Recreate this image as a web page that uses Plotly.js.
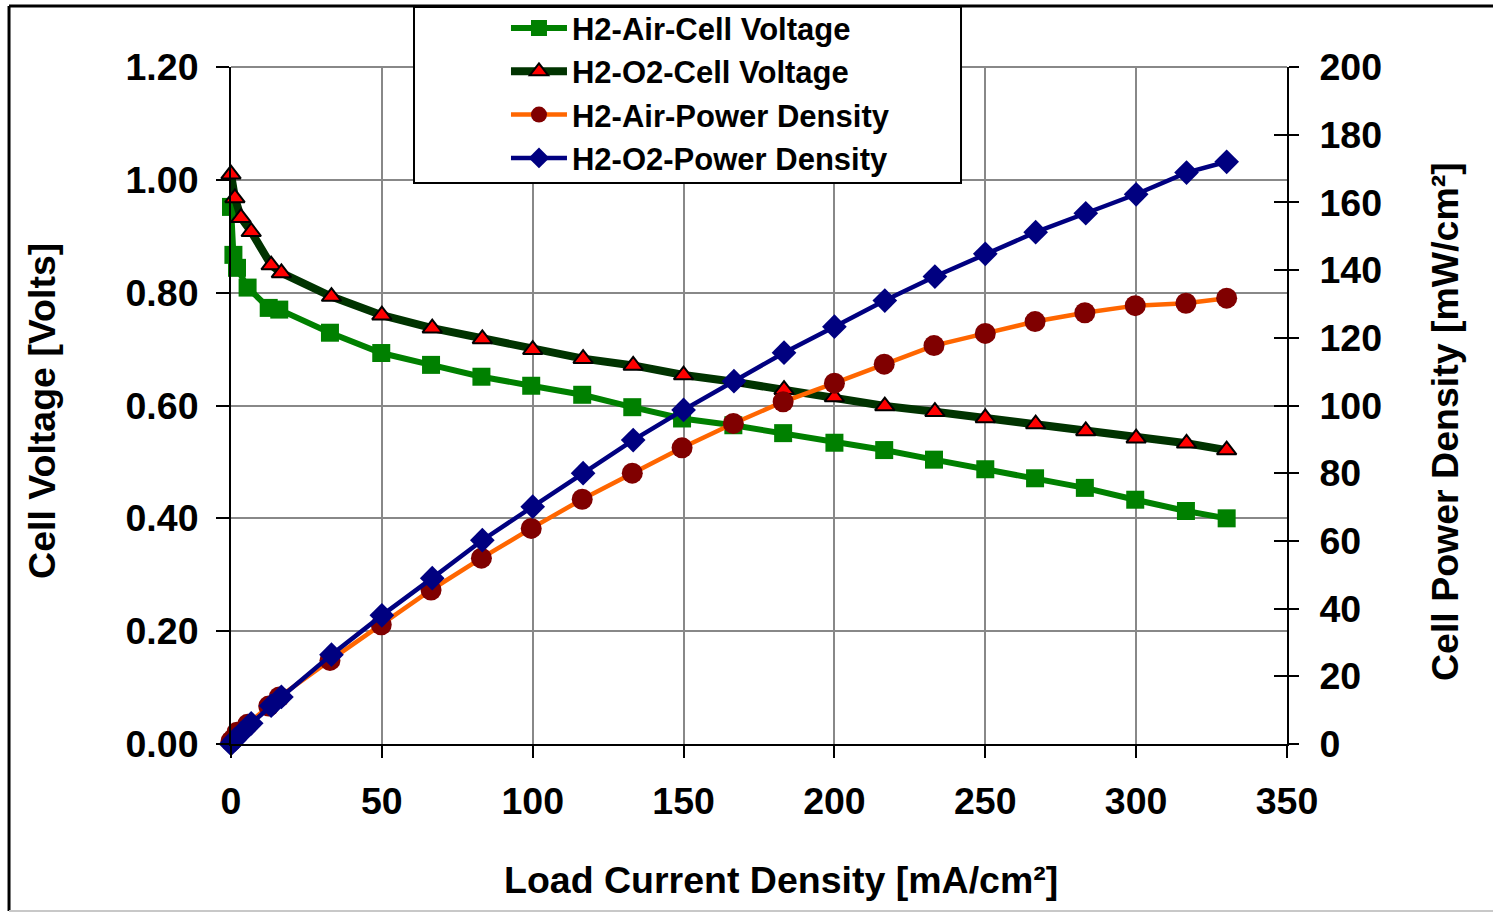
<!DOCTYPE html>
<html>
<head>
<meta charset="utf-8">
<script src="https://cdn.plot.ly/plotly-3.0.1.min.js"></script>
<style>
  html, body { margin: 0; padding: 0; background: #ffffff; }
  #chart { width: 1493px; height: 912px; }
</style>
</head>
<body>
<div id="chart"></div>
<script>
// Load current density [mA/cm²]
const currentO2 = [0, 1.3, 3.3, 6.7, 13.3, 16.7, 33.3, 50, 66.7, 83.3, 100, 116.7, 133.3, 150, 166.7, 183.3, 200, 216.7, 233.3, 250, 266.7, 283.3, 300, 316.7, 330];
const currentAir = [0, 0.8, 2.0, 5.5, 12.5, 16.0, 32.8, 49.8, 66.3, 83.0, 99.5, 116.4, 133.0, 149.5, 166.5, 183.0, 200, 216.5, 233.0, 250, 266.5, 283.0, 299.7, 316.5, 330];

// Cell voltage [Volts]
const voltageAir = [0.952, 0.867, 0.844, 0.809, 0.773, 0.770, 0.729, 0.693, 0.672, 0.651, 0.635, 0.619, 0.597, 0.577, 0.565, 0.551, 0.534, 0.521, 0.504, 0.487, 0.471, 0.454, 0.433, 0.413, 0.400];
const voltageO2 = [1.010, 0.968, 0.933, 0.908, 0.849, 0.835, 0.793, 0.760, 0.737, 0.718, 0.699, 0.683, 0.671, 0.654, 0.642, 0.628, 0.615, 0.599, 0.589, 0.578, 0.567, 0.555, 0.542, 0.533, 0.521];

// Cell power density [mW/cm²]
const powerAir = [0.8, 1.5, 3.5, 5.8, 11.2, 13.9, 24.7, 35.2, 45.5, 54.9, 63.7, 72.3, 80.0, 87.5, 94.7, 101.1, 106.6, 112.2, 117.7, 121.3, 124.8, 127.4, 129.5, 130.2, 131.7];
const powerO2 = [0, 1.3, 3.1, 6.1, 11.3, 13.9, 26.4, 38.0, 49.0, 60.2, 70.1, 80.0, 89.8, 98.7, 107.2, 115.6, 123.3, 131.0, 138.1, 144.8, 151.2, 156.8, 162.4, 168.8, 172.0];

const seriesNames = ['H2-Air-Cell Voltage', 'H2-O2-Cell Voltage', 'H2-Air-Power Density', 'H2-O2-Power Density'];
const xTicks = [0, 50, 100, 150, 200, 250, 300, 350];
const yTicksLeft = [0, 0.2, 0.4, 0.6, 0.8, 1.0, 1.2];
const yTicksRight = [0, 20, 40, 60, 80, 100, 120, 140, 160, 180, 200];

const FONT = 'Liberation Sans, Arial, Helvetica, sans-serif';

const traces = [
  {
    x: currentAir, y: voltageAir, name: seriesNames[0], type: 'scatter', mode: 'lines+markers',
    yaxis: 'y', cliponaxis: false,
    line: { color: '#008000', width: 6 },
    marker: { symbol: 'square', size: 18, color: '#008000' }
  },
  {
    x: currentO2, y: voltageO2, name: seriesNames[1], type: 'scatter', mode: 'lines+markers',
    yaxis: 'y', cliponaxis: false,
    line: { color: '#003300', width: 8 },
    marker: { symbol: 'triangle-up', size: 17, color: '#FF0000', line: { color: '#000000', width: 2 } }
  },
  {
    x: currentAir, y: powerAir, name: seriesNames[2], type: 'scatter', mode: 'lines+markers',
    yaxis: 'y2', cliponaxis: false,
    line: { color: '#FF6600', width: 4.5 },
    marker: { symbol: 'circle', size: 21, color: '#800000' }
  },
  {
    x: currentO2, y: powerO2, name: seriesNames[3], type: 'scatter', mode: 'lines+markers',
    yaxis: 'y2', cliponaxis: false,
    line: { color: '#000080', width: 4.5 },
    marker: { symbol: 'diamond', size: 19, color: '#000080' }
  },
  // invisible helper for inside ticks on the right axis
  {
    x: [0], y: [0], yaxis: 'y3', type: 'scatter', mode: 'markers',
    marker: { opacity: 0 }, showlegend: false, hoverinfo: 'skip'
  }
];

const tickFont = { family: FONT, size: 37.5, color: '#000000', weight: 'bold' };
const titleFont = { family: FONT, size: 37.5, color: '#000000', weight: 'bold' };

const layout = {
  width: 1493, height: 912,
  margin: { l: 231, r: 206, t: 67, b: 168, pad: 0, autoexpand: false },
  paper_bgcolor: '#ffffff', plot_bgcolor: '#ffffff',
  font: { family: FONT, color: '#000000' },
  showlegend: true,
  legend: {
    x: 0.2604, y: 1.097, xanchor: 'left', yanchor: 'top',
    bgcolor: 'rgba(0,0,0,0)', borderwidth: 0,
    font: { family: FONT, size: 31, color: '#000000', weight: 'bold' },
    itemwidth: 56, tracegroupgap: 0
  },
  xaxis: {
    range: [0, 350], tickvals: xTicks, ticktext: xTicks.map(String),
    showgrid: true, gridcolor: '#888888', gridwidth: 2,
    showline: true, linecolor: '#000000', linewidth: 2,
    ticks: 'outside', ticklen: 12, tickwidth: 2, tickcolor: '#000000',
    tickfont: tickFont, ticklabelstandoff: 11, zeroline: false
  },
  yaxis: {
    range: [0, 1.2], tickvals: yTicksLeft, ticktext: yTicksLeft.map(v => v.toFixed(2)),
    showgrid: true, gridcolor: '#888888', gridwidth: 2,
    showline: true, linecolor: '#000000', linewidth: 2,
    ticks: 'outside', ticklen: 13, tickwidth: 2, tickcolor: '#000000',
    tickfont: tickFont, ticklabelstandoff: 10, zeroline: false
  },
  yaxis2: {
    range: [0, 200], tickvals: yTicksRight, ticktext: yTicksRight.map(String),
    overlaying: 'y', side: 'right', showgrid: false,
    showline: true, linecolor: '#000000', linewidth: 2,
    ticks: 'outside', ticklen: 10, tickwidth: 2, tickcolor: '#000000',
    tickfont: tickFont, ticklabelstandoff: 13, zeroline: false
  },
  yaxis3: {
    range: [0, 200], tickvals: yTicksRight, showticklabels: false,
    overlaying: 'y', side: 'right', showgrid: false, showline: false,
    ticks: 'inside', ticklen: 13, tickwidth: 2, tickcolor: '#000000', zeroline: false
  },
  shapes: [
    // top gridline of plot area
    { type: 'line', xref: 'paper', yref: 'paper', x0: 0, x1: 1, y0: 1, y1: 1,
      line: { color: '#888888', width: 2 }, layer: 'below' },
    // legend box
    { type: 'rect', xref: 'paper', yref: 'paper', x0: 0.1733, x1: 0.6913, y0: 0.8287, y1: 1.0886,
      fillcolor: '#ffffff', line: { color: '#000000', width: 2 }, layer: 'above' },
    // outer chart frame
    { type: 'line', xref: 'paper', yref: 'paper', x0: -0.2102, x1: -0.2102, y0: -0.2467, y1: 1.0901,
      line: { color: '#000000', width: 3 } },
    { type: 'line', xref: 'paper', yref: 'paper', x0: -0.2102, x1: 1.2, y0: 1.0901, y1: 1.0901,
      line: { color: '#000000', width: 3 } },
    { type: 'line', xref: 'paper', yref: 'paper', x0: -0.2102, x1: 1.2, y0: -0.2467, y1: -0.2467,
      line: { color: '#c8c8c8', width: 2 } }
  ],
  annotations: [
    { text: 'Cell Voltage [Volts]', xref: 'paper', yref: 'paper', x: -0.179, y: 0.492,
      xanchor: 'center', yanchor: 'middle', textangle: -90, showarrow: false, font: titleFont },
    { text: 'Cell Power Density [mW/cm²]', xref: 'paper', yref: 'paper', x: 1.1496, y: 0.477,
      xanchor: 'center', yanchor: 'middle', textangle: -90, showarrow: false, font: titleFont },
    { text: 'Load Current Density [mA/cm²]', xref: 'paper', yref: 'paper', x: 0.5208, y: -0.2009,
      xanchor: 'center', yanchor: 'middle', showarrow: false, font: titleFont }
  ]
};

Plotly.newPlot('chart', traces, layout, { displayModeBar: false, staticPlot: true });
</script>
</body>
</html>
